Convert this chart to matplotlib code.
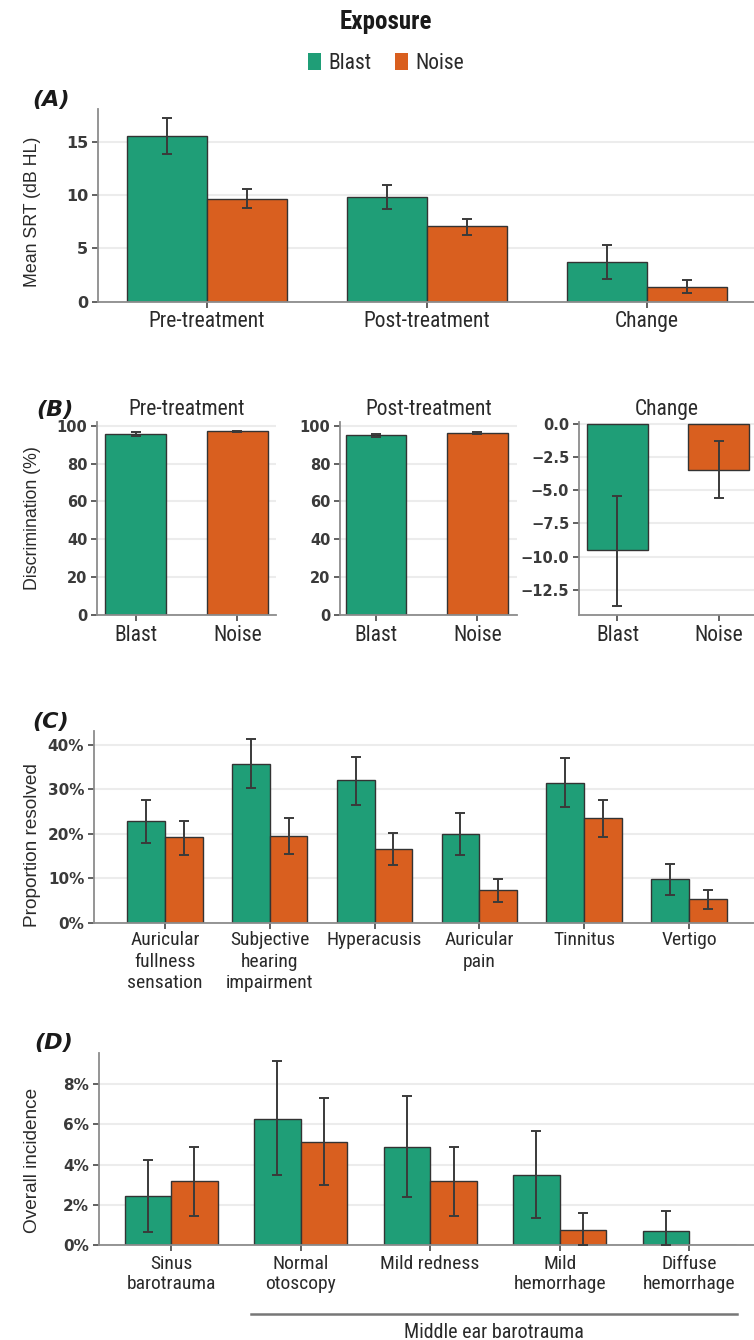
import numpy as np
import matplotlib
matplotlib.use('Agg')
import matplotlib.pyplot as plt
from matplotlib import font_manager as fm
from matplotlib.patches import Patch

# ---------------- DATA ----------------
groups = ['Blast', 'Noise']

a_cats = ['Pre-treatment', 'Post-treatment', 'Change']
a_blast = [15.6, 9.9, 3.7]
a_blast_lo = [13.9, 8.7, 2.1]
a_blast_hi = [17.3, 11.0, 5.3]
a_noise = [9.7, 7.1, 1.4]
a_noise_lo = [8.8, 6.3, 0.8]
a_noise_hi = [10.6, 7.8, 2.0]

b_titles = ['Pre-treatment', 'Post-treatment', 'Change']
b_pre = [95.6, 97.0]
b_pre_lo = [94.8, 96.6]
b_pre_hi = [96.4, 97.4]
b_post = [95.0, 96.1]
b_post_lo = [94.2, 95.6]
b_post_hi = [95.8, 96.6]
b_change = [-9.5, -3.45]
b_change_lo = [-13.7, -5.6]
b_change_hi = [-5.4, -1.3]

c_cats = ['Auricular\nfullness\nsensation', 'Subjective\nhearing\nimpairment',
          'Hyperacusis', 'Auricular\npain', 'Tinnitus', 'Vertigo']
c_blast = [22.8, 35.7, 32.0, 19.9, 31.4, 9.8]
c_blast_lo = [17.9, 30.2, 26.5, 15.3, 26.1, 6.3]
c_blast_hi = [27.7, 41.4, 37.3, 24.6, 37.0, 13.3]
c_noise = [19.2, 19.5, 16.6, 7.4, 23.5, 5.3]
c_noise_lo = [15.3, 15.6, 13.0, 4.8, 19.4, 3.1]
c_noise_hi = [23.0, 23.5, 20.3, 9.8, 27.7, 7.5]

d_cats = ['Sinus\nbarotrauma', 'Normal\notoscopy', 'Mild redness',
          'Mild\nhemorrhage', 'Diffuse\nhemorrhage']
d_blast = [2.46, 6.28, 4.89, 3.50, 0.71]
d_blast_lo = [0.68, 3.49, 2.40, 1.37, 0.0]
d_blast_hi = [4.23, 9.11, 7.40, 5.64, 1.69]
d_noise = [3.19, 5.14, 3.19, 0.74, 0.0]
d_noise_lo = [1.47, 2.99, 1.47, 0.0, 0.0]
d_noise_hi = [4.89, 7.29, 4.89, 1.59, 0.0]
d_bracket_label = 'Middle ear barotrauma'

legend_title = 'Exposure'

# ---------------- STYLE ----------------
GREEN = '#1f9e77'
ORANGE = '#d95f1f'
EDGE = '#333333'
ERR = '#3a3a3a'
SPINE = '#8c8c8c'
GRID = '#ececec'
TXT = '#2a2a2a'
YTXT = '#3a3a3a'

names = {f.name for f in fm.fontManager.ttflist}
COND = None
for cand in ['Roboto Condensed', 'Liberation Sans Narrow', 'Open Sans Condensed',
             'Noto Sans Condensed', 'DejaVu Sans Condensed']:
    if cand in names:
        COND = dict(family=cand)
        break
if COND is None:
    if any(f.name == 'DejaVu Sans' and 'condensed' in str(f.stretch) for f in fm.fontManager.ttflist):
        COND = dict(family='DejaVu Sans', stretch='condensed')
    else:
        COND = dict(family='Roboto')
REG = dict(family='Liberation Sans')
YT = dict(family='DejaVu Sans', fontweight='bold')

W, H = 754, 1340
fig = plt.figure(figsize=(W / 100, H / 100), dpi=100)
fig.patch.set_facecolor('white')


def add_ax(l, r, t, b):
    return fig.add_axes([l / W, 1 - b / H, (r - l) / W, (b - t) / H])


def style(ax, yticks, ylabels, xticks, xlabels, xsize=14, ysize=11, xpad=5, ls=1.12):
    for s in ['top', 'right']:
        ax.spines[s].set_visible(False)
    for s in ['left', 'bottom']:
        ax.spines[s].set_color(SPINE)
        ax.spines[s].set_linewidth(1.3)
    ax.set_yticks(yticks, ylabels, color=YTXT, fontsize=ysize, **YT)
    ax.set_xticks(xticks, xlabels, color=TXT, fontsize=xsize, linespacing=ls, **COND)
    ax.tick_params(axis='both', length=4, width=1.3, color='#555555', pad=3)
    ax.tick_params(axis='x', pad=xpad)
    ax.set_axisbelow(True)
    ax.yaxis.grid(True, color=GRID, linewidth=1.5)
    ax.xaxis.grid(False)


def bars(ax, x, vals, lo, hi, w, color):
    vals = np.asarray(vals, float)
    lo = np.asarray(lo, float)
    hi = np.asarray(hi, float)
    ax.bar(x, vals, w, color=color, edgecolor=EDGE, linewidth=1.0, zorder=2)
    m = hi > lo
    yerr = np.vstack([vals - lo, hi - vals])[:, m]
    ax.errorbar(np.asarray(x)[m], vals[m], yerr=yerr, fmt='none', ecolor=ERR,
                elinewidth=1.4, capsize=3.5, capthick=1.4, zorder=3)


def ylab(ax, text, xpix, ypix, size=12.8):
    ax.set_ylabel(text, fontsize=size, color=TXT, **REG)
    ax.yaxis.set_label_coords(xpix / W, 1 - ypix / H, transform=fig.transFigure)


def panel_label(text, xpix, ypix):
    fig.text(xpix / W, 1 - ypix / H, text, fontsize=16, fontweight='bold',
             fontstyle='italic', color='#1a1a1a', va='center', ha='left',
             family='DejaVu Sans')

# ---------------- Legend ----------------
handles = [Patch(facecolor=GREEN, edgecolor='none'), Patch(facecolor=ORANGE, edgecolor='none')]
leg = fig.legend(handles, groups, loc='center', bbox_to_anchor=(386 / W, 1 - 42 / H),
                 ncol=2, frameon=False, title=legend_title,
                 prop=dict(size=15.5, **COND),
                 title_fontproperties=dict(size=18, weight='bold', **COND),
                 handlelength=0.6, handleheight=0.85, handletextpad=0.35,
                 columnspacing=1.1, borderpad=0.2)
leg._legend_box.sep = 14
for t in leg.get_texts():
    t.set_color(TXT)
leg.get_title().set_color('#1a1a1a')

# ---------------- Panel A ----------------
axA = add_ax(98, 754, 109, 301.5)
xa = np.arange(len(a_cats))
wa = 0.364
bars(axA, xa - wa / 2, a_blast, a_blast_lo, a_blast_hi, wa, GREEN)
bars(axA, xa + wa / 2, a_noise, a_noise_lo, a_noise_hi, wa, ORANGE)
axA.set_xlim(-0.495, 2.486)
axA.set_ylim(0, 18.15)
style(axA, [0, 5, 10, 15], ['0', '5', '10', '15'], xa, a_cats, xsize=15.5, ysize=11.5, xpad=3)
ylab(axA, 'Mean SRT (dB HL)', 41, 212)
panel_label('(A)', 32, 100)

# ---------------- Panel B ----------------
wb = 0.6
b_specs = [
    (b_pre, b_pre_lo, b_pre_hi, (97, 276), (-0.38, 1.38), (0, 102.1)),
    (b_post, b_post_lo, b_post_hi, (340, 517), (-0.355, 1.39), (0, 102.1)),
    (b_change, b_change_lo, b_change_hi, (579, 754), (-0.38, 1.35), (-14.4, 0.17)),
]
for i, (vals, lo, hi, (l, r), xl, yl) in enumerate(b_specs):
    ax = add_ax(l, r, 421.7, 615)
    xb = np.arange(2)
    for j, col in enumerate([GREEN, ORANGE]):
        bars(ax, [xb[j]], [vals[j]], [lo[j]], [hi[j]], wb, col)
    ax.set_xlim(*xl)
    ax.set_ylim(*yl)
    if i < 2:
        yt = [0, 20, 40, 60, 80, 100]
        yls = [str(v) for v in yt]
    else:
        yt = [0.0, -2.5, -5.0, -7.5, -10.0, -12.5]
        yls = ['0.0' if v == 0 else '\u2212' + f'{abs(v):.1f}' for v in yt]
    style(ax, yt, yls, xb, groups, xsize=15.5, ysize=10.5, xpad=3)
    ax.set_title(b_titles[i], fontsize=15.5, color=TXT, pad=5, **COND)
    if i == 0:
        ylab(ax, 'Discrimination (%)', 41, 518)
panel_label('(B)', 36, 410)

# ---------------- Panel C ----------------
axC = add_ax(94, 754, 731, 923)
xc = np.arange(len(c_cats))
wc = 0.36
bars(axC, xc - wc / 2, c_blast, c_blast_lo, c_blast_hi, wc, GREEN)
bars(axC, xc + wc / 2, c_noise, c_noise_lo, c_noise_hi, wc, ORANGE)
axC.set_xlim(-0.676, 5.62)
axC.set_ylim(0, 43.1)
style(axC, [0, 10, 20, 30, 40], ['0%', '10%', '20%', '30%', '40%'], xc, c_cats,
      xsize=14, ysize=11, xpad=2, ls=1.25)
ylab(axC, 'Proportion resolved', 41, 845, size=13.7)
panel_label('(C)', 32, 722)

# ---------------- Panel D ----------------
axD = add_ax(98.6, 754, 1053, 1245.3)
xd = np.arange(len(d_cats))
wd = 0.36
bars(axD, xd - wd / 2, d_blast, d_blast_lo, d_blast_hi, wd, GREEN)
bars(axD, xd + wd / 2, d_noise, d_noise_lo, d_noise_hi, wd, ORANGE)
axD.set_xlim(-0.56, 4.5)
axD.set_ylim(0, 9.53)
style(axD, [0, 2, 4, 6, 8], ['0%', '2%', '4%', '6%', '8%'], xd, d_cats,
      xsize=14, ysize=11, xpad=3, ls=1.15)
ylab(axD, 'Overall incidence', 41, 1160, size=13.7)
panel_label('(D)', 34, 1043)

trans = matplotlib.transforms.blended_transform_factory(axD.transData, fig.transFigure)
y_line = 1 - 1314 / H
axD.plot([xd[1] - 0.38, xd[4] + 0.37], [y_line, y_line], transform=trans,
         color='#777777', linewidth=1.8, clip_on=False)
axD.text((xd[1] - 0.38 + xd[4] + 0.37) / 2, 1 - 1332 / H, d_bracket_label,
         transform=trans, ha='center', va='center', fontsize=14.5, color=TXT, **COND)

fig.savefig('out.png', dpi=100, facecolor='white')
